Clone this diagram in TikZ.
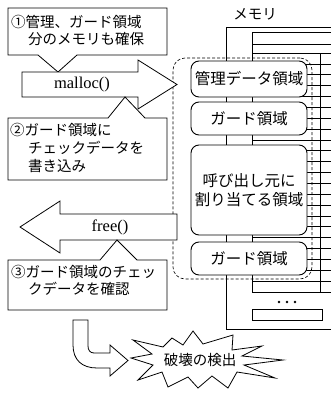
\documentclass[tikz,border=0pt]{standalone}
\usepackage{fontspec}
\newfontfamily\jpfont{Noto Sans CJK JP}
\newfontfamily\serfont{Liberation Serif}
\begin{document}
\begin{tikzpicture}[x=1pt,y=-1pt,line join=miter,
  jp/.style={font=\jpfont\fontsize{14.5}{18}\selectfont, inner sep=0pt},
  lt/.style={jp, anchor=west},
  shapeline/.style={draw=black, line width=0.8pt, fill=white},
  memline/.style={draw=black, line width=0.7pt},
  mbox/.style={draw=black, fill=white, line width=0.9pt, rounded corners=8pt, inner sep=0pt, minimum width=116pt, font=\jpfont\fontsize{15.5}{18.5}\selectfont, align=center},
  fn/.style={font=\serfont\fontsize{16.5}{18}\selectfont, inner sep=0pt}]
\useasboundingbox (0,0) rectangle (331,394);

% memory column
\draw[memline] (331,27) -- (226,27) -- (226,329) -- (331,329);
\draw[memline] (331,32) -- (252,32) -- (252,292) -- (331,292);
\draw[memline] (252,44) -- (331,44);
\draw[memline] (252,53) -- (331,53);
\draw[memline] (320,53) -- (320,292);
\foreach \k in {1,...,21} \draw[memline] (252,{53+\k*10.86}) -- (331,{53+\k*10.86});
\foreach \xx in {279,287,295} \fill (\xx,302) circle (1.3pt);
\draw[memline] (252,309) rectangle (322,320);
\node[jp] (mem) at (255,14) {メモリ};

% container
\node[draw, densely dashed, line width=0.6pt, rounded corners=12pt, minimum width=139pt, minimum height=221pt, inner sep=0pt] (cont) at (242.5,168.5) {};

% memory areas
\node[mbox, minimum height=36pt] (b1) at (249,79) {管理データ領域};
\node[mbox, minimum height=33pt] (b2) at (249,118.5) {ガード領域};
\node[mbox, minimum height=90pt] (b3) at (249,190) {呼び出し元に\\割り当てる領域};
\node[mbox, minimum height=33pt] (b4) at (249,258.5) {ガード領域};

% callout 1
\draw[shapeline] (8,8) -- (167,8) -- (167,55) -- (77,55) -- (58,72) -- (38,55) -- (8,55) -- cycle;
\node[lt] (c1a) at (11,22) {①管理、ガード領域};
\node[lt] (c1b) at (28,39) {分のメモリも確保};

% malloc arrow
\draw[shapeline] (22,72) -- (138,72) -- (138,60) -- (177,84.5) -- (138,109) -- (138,97) -- (22,97) -- cycle;
\node[fn] (malloc) at (82,85) {malloc()};

% callout 2
\draw[shapeline] (8,118) -- (108,118) -- (125,97) -- (145,118) -- (167,118) -- (167,180) -- (8,180) -- cycle;
\node[lt] (c2a) at (10,130) {②ガード領域に};
\node[lt] (c2b) at (28,148) {チェックデータを};
\node[lt] (c2c) at (28,166) {書き込み};

% free arrow
\draw[shapeline] (177,214) -- (60,214) -- (60,201) -- (20,227) -- (60,253) -- (60,240) -- (177,240) -- cycle;
\node[fn] (free) at (110,227) {free()};

% callout 3
\draw[shapeline] (8,260) -- (100,260) -- (117,240) -- (137,260) -- (167,260) -- (167,310) -- (8,310) -- cycle;
\node[lt] (c3a) at (11,272) {③ガード領域のチェッ};
\node[lt] (c3b) at (28,289) {クデータを確認};

% bent arrow
\draw[shapeline] (73,320) -- (88,320) -- (88,346) .. controls (88,350) and (90,353) .. (94,353) -- (110,353) -- (110,345) -- (128,360.5) -- (110,376) -- (110,368) -- (97,368) .. controls (82,368) and (73,360) .. (73,345) -- cycle;

% burst
\draw[shapeline] (131,358) -- (152,354) -- (133,340) -- (163,347) -- (172,338) -- (183,345) -- (193,331) -- (203,344) -- (233,335) -- (232,350) -- (262,346) -- (242,356) -- (283,360) -- (244,365) -- (275,378) -- (237,372) -- (228,388) -- (212,376) -- (198,388) -- (188,377) -- (168,387) -- (162,372) -- (138,380) -- (153,365) -- cycle;
\node[jp] (det) at (200,360) {破壊の検出};
\end{tikzpicture}
\end{document}
